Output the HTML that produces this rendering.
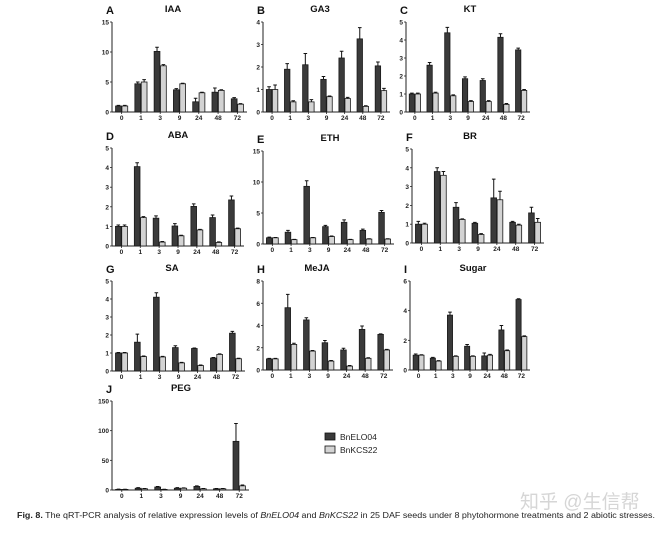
<!DOCTYPE html>
<html><head><meta charset="utf-8"><style>
body{margin:0;background:#fff;width:659px;height:531px;overflow:hidden;font-family:"Liberation Sans",Arial,sans-serif}
svg text{font-family:"Liberation Sans",Arial,sans-serif}
</style></head><body>
<svg id="fig" width="659" height="531" xmlns="http://www.w3.org/2000/svg">
<g id="panels"></g>
<g>
<rect x="325" y="433" width="10" height="7" fill="#3a3a3a" stroke="#111" stroke-width="0.8"/>
<text x="340" y="440" font-size="8.5" fill="#222">BnELO04</text>
<rect x="325" y="446" width="10" height="7" fill="#d3d3d3" stroke="#111" stroke-width="0.8"/>
<text x="340" y="453" font-size="8.5" fill="#222">BnKCS22</text>
</g>
<text x="520" y="508" font-size="19" fill="#d6d6d6" font-family="'Liberation Sans','Noto Sans CJK SC',sans-serif">知乎 @生信帮</text>
<text x="17" y="518" font-size="8.6" fill="#222" font-family="'Liberation Serif',serif" textLength="638" lengthAdjust="spacingAndGlyphs"><tspan font-weight="bold">Fig. 8.</tspan> The qRT-PCR analysis of relative expression levels of <tspan font-style="italic">BnELO04</tspan> and <tspan font-style="italic">BnKCS22</tspan> in 25 DAF seeds under 8 phytohormone treatments and 2 abiotic stresses.</text>
</svg>
<script>
const categories=["0","1","3","9","24","48","72"];
const iaaElo=[1.0,4.7,10.1,3.7,1.7,3.3,2.2], iaaEloErr=[0.1,0.3,0.7,0.2,0.6,0.7,0.2];
const iaaKcs=[1.0,5.0,7.7,4.7,3.2,3.6,1.3], iaaKcsErr=[0.1,0.4,0.2,0.1,0.1,0.1,0.1];
const ga3Elo=[1.0,1.9,2.1,1.45,2.4,3.25,2.05], ga3EloErr=[0.12,0.25,0.5,0.13,0.3,0.5,0.17];
const ga3Kcs=[1.0,0.45,0.45,0.68,0.6,0.25,0.95], ga3KcsErr=[0.2,0.05,0.1,0.03,0.05,0.03,0.1];
const ktElo=[1.0,2.6,4.4,1.85,1.75,4.15,3.45], ktEloErr=[0.05,0.15,0.3,0.1,0.1,0.2,0.1];
const ktKcs=[1.0,1.05,0.9,0.58,0.58,0.42,1.2], ktKcsErr=[0.05,0.05,0.05,0.05,0.05,0.05,0.05];
const abaElo=[1.0,4.05,1.42,1.02,2.02,1.45,2.35], abaEloErr=[0.07,0.2,0.12,0.12,0.13,0.13,0.2];
const abaKcs=[1.0,1.45,0.2,0.52,0.82,0.18,0.88], abaKcsErr=[0.07,0.05,0.03,0.03,0.03,0.03,0.03];
const ethElo=[1.0,1.9,9.3,2.8,3.5,2.2,5.1], ethEloErr=[0.1,0.3,0.9,0.2,0.4,0.2,0.3];
const ethKcs=[1.0,0.7,1.0,1.2,0.7,0.8,0.8], ethKcsErr=[0.05,0.05,0.05,0.1,0.05,0.05,0.05];
const brElo=[1.0,3.8,1.9,1.05,2.4,1.1,1.6], brEloErr=[0.15,0.2,0.25,0.05,1.0,0.05,0.3];
const brKcs=[1.0,3.6,1.25,0.45,2.3,0.95,1.1], brKcsErr=[0.05,0.2,0.03,0.05,0.45,0.05,0.2];
const saElo=[1.0,1.6,4.1,1.3,1.25,0.72,2.1], saEloErr=[0.03,0.45,0.25,0.1,0.03,0.03,0.1];
const saKcs=[1.0,0.8,0.78,0.45,0.3,0.92,0.68], saKcsErr=[0.03,0.03,0.03,0.03,0.03,0.03,0.03];
const mejaElo=[1.0,5.6,4.5,2.45,1.8,3.65,3.2], mejaEloErr=[0.05,1.2,0.2,0.2,0.15,0.3,0.05];
const mejaKcs=[1.0,2.3,1.7,0.8,0.35,1.05,1.8], mejaKcsErr=[0.05,0.1,0.05,0.05,0.05,0.05,0.05];
const sugarElo=[1.0,0.8,3.7,1.6,0.95,2.7,4.75], sugarEloErr=[0.08,0.05,0.2,0.12,0.2,0.3,0.05];
const sugarKcs=[1.0,0.6,0.92,0.92,1.0,1.3,2.25], sugarKcsErr=[0.03,0.03,0.03,0.03,0.05,0.05,0.05];
const pegElo=[1,3,5,3,6,2,82], pegEloErr=[0.5,1,1,1,1,0.5,30];
const pegKcs=[1,2,1,3,2,2,7], pegKcsErr=[0.3,0.5,0.3,0.5,0.5,0.5,1.5];
const iaaTicks=[0,5,10,15], ga3Ticks=[0,1,2,3,4], ktTicks=[0,1,2,3,4,5], abaTicks=[0,1,2,3,4,5];
const ethTicks=[0,5,10,15], brTicks=[0,1,2,3,4,5], saTicks=[0,1,2,3,4,5], mejaTicks=[0,2,4,6,8];
const sugarTicks=[0,2,4,6], pegTicks=[0,50,100,150];

const NS="http://www.w3.org/2000/svg";
const root=document.getElementById('panels');
function mk(tag,attrs,parent){const e=document.createElementNS(NS,tag);for(const k in attrs)e.setAttribute(k,attrs[k]);parent.appendChild(e);return e;}
const panels=[
 {id:"iaa",letter:"A",title:"IAA",tx:173,x0:112,x1:247,yt:22,yz:112,ticks:iaaTicks,e:iaaElo,ee:iaaEloErr,k:iaaKcs,ke:iaaKcsErr},
 {id:"ga3",letter:"B",title:"GA3",tx:320,x0:263,x1:390,yt:22,yz:112,ticks:ga3Ticks,e:ga3Elo,ee:ga3EloErr,k:ga3Kcs,ke:ga3KcsErr},
 {id:"kt",letter:"C",title:"KT",tx:470,x0:406,x1:530,yt:22,yz:112,ticks:ktTicks,e:ktElo,ee:ktEloErr,k:ktKcs,ke:ktKcsErr},
 {id:"aba",letter:"D",title:"ABA",tx:178,x0:112,x1:244,yt:148,yz:246,ticks:abaTicks,e:abaElo,ee:abaEloErr,k:abaKcs,ke:abaKcsErr},
 {id:"eth",letter:"E",title:"ETH",tx:330,x0:263,x1:394,yt:151,yz:244,ticks:ethTicks,e:ethElo,ee:ethEloErr,k:ethKcs,ke:ethKcsErr},
 {id:"br",letter:"F",title:"BR",tx:470,x0:412,x1:544,yt:149,yz:243,ticks:brTicks,e:brElo,ee:brEloErr,k:brKcs,ke:brKcsErr},
 {id:"sa",letter:"G",title:"SA",tx:172,x0:112,x1:245,yt:281,yz:371,ticks:saTicks,e:saElo,ee:saEloErr,k:saKcs,ke:saKcsErr},
 {id:"meja",letter:"H",title:"MeJA",tx:317,x0:263,x1:393,yt:281,yz:370,ticks:mejaTicks,e:mejaElo,ee:mejaEloErr,k:mejaKcs,ke:mejaKcsErr},
 {id:"sugar",letter:"I",title:"Sugar",tx:473,x0:410,x1:530,yt:281,yz:370,ticks:sugarTicks,e:sugarElo,ee:sugarEloErr,k:sugarKcs,ke:sugarKcsErr},
 {id:"peg",letter:"J",title:"PEG",tx:181,x0:112,x1:249,yt:401,yz:490,ticks:pegTicks,e:pegElo,ee:pegEloErr,k:pegKcs,ke:pegKcsErr}
];
panels.forEach(p=>{
 const g=mk('g',{},root);
 
 
 const max=p.ticks[p.ticks.length-1];
 const y=v=>p.yz-(v/max)*(p.yz-p.yt);
 const gw=(p.x1-p.x0)/categories.length;
 const bw=Math.min(6,gw*0.3);
 const L=mk('text',{x:p.x0-6,y:p.yt-8,'font-size':11,'font-weight':'bold',fill:'#111'},g);L.textContent=p.letter;
 
 
 const T=mk('text',{x:p.tx,y:p.yt-10,'font-size':9.5,'font-weight':'bold','text-anchor':'middle',fill:'#111'},g);T.textContent=p.title;
 
 
 const ya=mk('line',{x1:p.x0,x2:p.x0,y1:p.yt,y2:p.yz,stroke:'#222','stroke-width':1},g);
 
 
 const xa=mk('line',{x1:p.x0,x2:p.x1,y1:p.yz,y2:p.yz,stroke:'#222','stroke-width':1},g);
 
 
 p.ticks.forEach(t=>{
  mk('line',{x1:p.x0-2,x2:p.x0,y1:y(t),y2:y(t),stroke:'#222','stroke-width':0.8},g);
  const tl=mk('text',{x:p.x0-3,y:y(t)+2.5,'font-size':6.5,'font-weight':'bold','text-anchor':'end',fill:'#222'},g);tl.textContent=t;
  
  
 });
 categories.forEach((c,i)=>{
  const cx=p.x0+(i+0.5)*gw;
  mk('line',{x1:cx,x2:cx,y1:p.yz,y2:p.yz+2,stroke:'#222','stroke-width':0.8},g);
  const xl=mk('text',{x:cx,y:p.yz+8,'font-size':6.5,'font-weight':'bold','text-anchor':'middle',fill:'#222'},g);xl.textContent=c;
  
  
  [[p.e[i],p.ee[i],cx-bw-0.3,'#3a3a3a','bnelo04'],[p.k[i],p.ke[i],cx+0.3,'#d3d3d3','bnkcs22']].forEach(s=>{
   const top=y(s[0]);
   const b=mk('rect',{x:s[2],y:top,width:bw,height:Math.max(0,p.yz-top),fill:s[3],stroke:'#1a1a1a','stroke-width':0.8},g);
   
   
   const ey=y(s[0]+s[1]), mx=s[2]+bw/2;
   const el=mk('path',{d:`M${mx},${top}V${ey}M${mx-1.8},${ey}H${mx+1.8}`,stroke:'#111','stroke-width':1,fill:'none'},g);
   
   
  });
 });
});
</script>
</body></html>
